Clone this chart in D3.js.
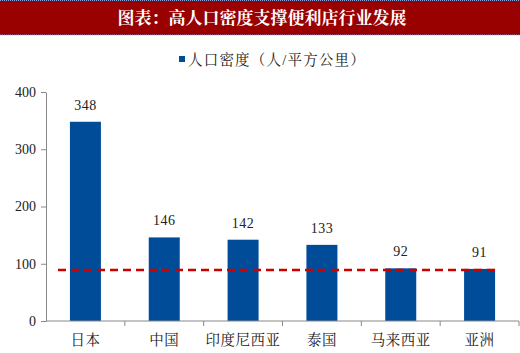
<!DOCTYPE html>
<html>
<head>
<meta charset="utf-8">
<script src="https://cdn.jsdelivr.net/npm/d3@7"></script>
<style>
  body { margin: 0; background: #fff; }
  svg { display: block; }
</style>
</head>
<body>
<svg width="520" height="353"></svg>
<script>
const categories = ["日本", "中国", "印度尼西亚", "泰国", "马来西亚", "亚洲"];
const density = [348, 146, 142, 133, 92, 91];
const yTicks = [0, 100, 200, 300, 400];
const refLine = 89;
const titleText = "图表：高人口密度支撑便利店行业发展";
const legendText = "人口密度（人/平方公里）";

const serif = "'Liberation Serif', 'Noto Serif CJK SC', 'Noto Sans CJK SC', serif";

const svg = d3.select("svg");

// header bar
svg.append("rect")
    .attr("x", 0).attr("y", 0)
    .attr("width", 520).attr("height", 35)
    .attr("fill", "#990000");
[0.5, 35].forEach(y => {
    svg.append("line")
        .attr("x1", 0).attr("x2", 520)
        .attr("y1", y).attr("y2", y)
        .attr("stroke", "#8fa6d8")
        .attr("stroke-width", 1)
        .attr("stroke-dasharray", "1,1");
});
svg.append("text")
    .attr("x", 262).attr("y", 24)
    .attr("text-anchor", "middle")
    .attr("fill", "#fff")
    .style("font-family", serif)
    .style("font-size", "17px")
    .style("font-weight", "bold")
    .text(titleText);

// legend
svg.append("rect")
    .attr("x", 179).attr("y", 56)
    .attr("width", 6).attr("height", 6)
    .attr("fill", "#004c99");
svg.append("text")
    .attr("x", 188).attr("y", 64.5)
    .attr("fill", "#222")
    .style("font-family", serif)
    .style("font-size", "14.5px")
    .style("letter-spacing", "1.2px")
    .text(legendText);

const x = d3.scaleBand()
    .domain(categories)
    .range([46, 519])
    .paddingInner(0)
    .paddingOuter(0);

const y = d3.scaleLinear()
    .domain([0, 400])
    .range([321, 92]);

const barW = 31;

// bars
svg.selectAll("rect.bar")
    .data(density)
    .enter().append("rect")
    .attr("class", "bar")
    .attr("x", (d, i) => x(categories[i]) + x.bandwidth() / 2 - barW / 2)
    .attr("y", d => y(d))
    .attr("width", barW)
    .attr("height", d => y(0) - y(d))
    .attr("fill", "#004c99");

// value labels
svg.selectAll("text.val")
    .data(density)
    .enter().append("text")
    .attr("class", "val")
    .attr("x", (d, i) => x(categories[i]) + x.bandwidth() / 2)
    .attr("y", d => y(d) - 12)
    .attr("text-anchor", "middle")
    .attr("fill", "#222")
    .style("font-family", serif)
    .style("font-size", "14px")
    .style("letter-spacing", "0.5px")
    .text(d => d);

// y axis
const yAxis = svg.append("g")
    .attr("transform", "translate(46,0)")
    .call(d3.axisLeft(y).tickValues(yTicks).tickSize(5).tickSizeOuter(0).tickPadding(5));
yAxis.select(".domain").attr("stroke", "#888");
yAxis.selectAll(".tick line").attr("stroke", "#888");
yAxis.selectAll(".tick text")
    .attr("fill", "#222")
    .style("font-family", serif)
    .style("font-size", "14px");

// x axis line + ticks between categories
svg.append("line")
    .attr("x1", 46).attr("x2", 519)
    .attr("y1", y(0)).attr("y2", y(0))
    .attr("stroke", "#888");
svg.selectAll("line.xtick")
    .data(categories)
    .enter().append("line")
    .attr("class", "xtick")
    .attr("x1", d => x(d) + x.bandwidth())
    .attr("x2", d => x(d) + x.bandwidth())
    .attr("y1", y(0)).attr("y2", y(0) + 5)
    .attr("stroke", "#888");

svg.selectAll("text.cat")
    .data(categories)
    .enter().append("text")
    .attr("class", "cat")
    .attr("x", d => x(d) + x.bandwidth() / 2)
    .attr("y", 345)
    .attr("text-anchor", "middle")
    .attr("fill", "#222")
    .style("font-family", serif)
    .style("font-size", "14.5px")
    .style("letter-spacing", "0.5px")
    .text(d => d);

// reference dashed line
svg.append("line")
    .attr("x1", 58).attr("x2", 495)
    .attr("y1", y(refLine)).attr("y2", y(refLine))
    .attr("stroke", "#cc0000")
    .attr("stroke-width", 2.5)
    .attr("stroke-dasharray", "8,5");
</script>
</body>
</html>
